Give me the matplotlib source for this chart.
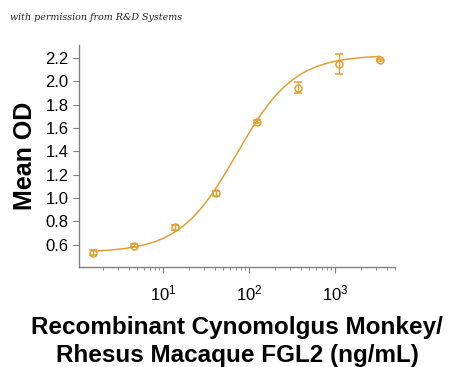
import numpy as np
import matplotlib.pyplot as plt
from matplotlib.ticker import LogLocator, FixedLocator

# concentration (ng/mL), mean OD, error
conc = [1.52, 4.57, 13.7, 41.2, 123, 370, 1111, 3333]
mean_od = [0.534, 0.594, 0.751, 1.042, 1.655, 1.946, 2.146, 2.185]
err = [0.02, 0.012, 0.02, 0.02, 0.015, 0.05, 0.085, 0.01]

# 4PL fit parameters (bottom, top, EC50, hill)
fit_bottom, fit_top, fit_ec50, fit_hill = 0.535, 2.225, 72.0, 1.3

color = '#E0A032'
plt.rcParams['font.family'] = ['Liberation Sans', 'DejaVu Sans']

fig = plt.figure(figsize=(4.5, 3.67), dpi=100)
ax = fig.add_axes([0.1756, 0.2725, 0.7024, 0.6045])

xs = np.logspace(np.log10(conc[0]), np.log10(conc[-1]), 300)
ys = fit_bottom + (fit_top - fit_bottom) / (1 + (fit_ec50 / xs) ** fit_hill)
ax.plot(xs, ys, color=color, lw=1.1)
ax.errorbar(conc, mean_od, yerr=err, fmt='o', mfc='none', mec=color, ecolor=color,
            ms=5, mew=1.1, elinewidth=1.0, capsize=3, capthick=1.0)

ax.set_xscale('log')
ax.set_xlim(1.05, 5000)
ax.set_ylim(0.41, 2.31)
ax.yaxis.set_major_locator(FixedLocator([0.6, 0.8, 1.0, 1.2, 1.4, 1.6, 1.8, 2.0, 2.2]))
ax.set_yticklabels(['0.6', '0.8', '1.0', '1.2', '1.4', '1.6', '1.8', '2.0', '2.2'])
ax.xaxis.set_major_locator(FixedLocator([10, 100, 1000]))
ax.xaxis.set_minor_locator(LogLocator(base=10, subs=np.arange(2, 10)))

for s in ['top', 'right']:
    ax.spines[s].set_visible(False)
for s in ['left', 'bottom']:
    ax.spines[s].set_color('#808080')
    ax.spines[s].set_linewidth(1.0)
ax.tick_params(axis='both', which='major', labelsize=12, color='#808080', length=4, direction='out')
ax.tick_params(axis='x', which='minor', color='#808080', length=2.5)
ax.tick_params(axis='x', pad=8)

ax.set_ylabel('Mean OD', fontsize=18, fontweight='bold', labelpad=6)
ax.set_xlabel('Recombinant Cynomolgus Monkey/\nRhesus Macaque FGL2 (ng/mL)',
              fontsize=17.5, fontweight='bold', labelpad=9, linespacing=1.25)

fig.text(0.022, 0.953, 'with permission from R&D Systems', fontsize=6.8,
         family='DejaVu Serif', style='italic', color='#222222', va='center')

fig.savefig('out.png', dpi=100)
